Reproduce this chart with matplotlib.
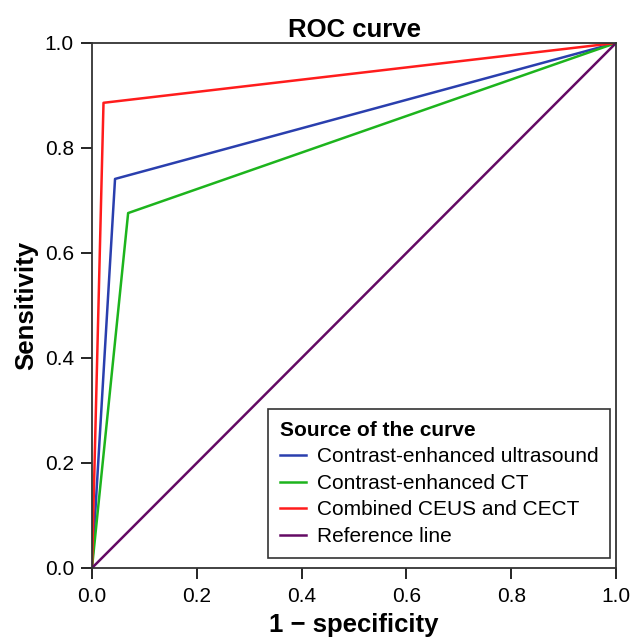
import matplotlib
matplotlib.use('Agg')
import matplotlib.pyplot as plt

plt.rcParams['font.family'] = ['Liberation Sans', 'DejaVu Sans']

# ROC points (1 - specificity, sensitivity)
ceus_x = [0.0, 0.044, 1.0]
ceus_y = [0.0, 0.741, 1.0]
cect_x = [0.0, 0.069, 1.0]
cect_y = [0.0, 0.676, 1.0]
comb_x = [0.0, 0.022, 1.0]
comb_y = [0.0, 0.886, 1.0]
ref_x = [0.0, 1.0]
ref_y = [0.0, 1.0]

ticks = [0.0, 0.2, 0.4, 0.6, 0.8, 1.0]

fig = plt.figure(figsize=(6.33, 6.41), dpi=100)
ax = fig.add_axes([0.1453, 0.1139, 0.828, 0.8191])

ax.plot(ceus_x, ceus_y, color='#2a3fae', lw=1.8, label='Contrast-enhanced ultrasound')
ax.plot(cect_x, cect_y, color='#1db41d', lw=1.8, label='Contrast-enhanced CT')
ax.plot(comb_x, comb_y, color='#ff1c1c', lw=1.8, label='Combined CEUS and CECT')
ax.plot(ref_x, ref_y, color='#640a64', lw=1.8, label='Reference line')

ax.set_xlim(0, 1)
ax.set_ylim(0, 1)
ax.set_xticks(ticks)
ax.set_yticks(ticks)
ax.set_xticklabels(['%.1f' % t for t in ticks], fontsize=15)
ax.set_yticklabels(['%.1f' % t for t in ticks], fontsize=15)
ax.tick_params(direction='out', length=8, width=1.2, top=False, right=False)
ax.tick_params(axis='x', pad=6)
ax.tick_params(axis='y', pad=5)
for s in ax.spines.values():
    s.set_linewidth(1.3)
    s.set_color('#333333')

ax.set_title('ROC curve', fontsize=18.5, fontweight='bold', pad=4)
ax.set_xlabel('1 \u2212 specificity', fontsize=18.5, fontweight='bold', labelpad=5)
ax.set_ylabel('Sensitivity', fontsize=18.5, fontweight='bold', labelpad=5)

leg = ax.legend(loc='lower right', title='Source of the curve', fontsize=15,
                title_fontproperties={'weight': 'bold', 'size': 15},
                frameon=True, fancybox=False, edgecolor='black',
                handlelength=1.25, handletextpad=0.5, borderpad=0.58,
                labelspacing=0.36, borderaxespad=0, bbox_to_anchor=(0.989, 0.019))
leg._legend_box.align = 'left'
leg.get_frame().set_linewidth(1.2)

fig.savefig('out.png', dpi=100)
